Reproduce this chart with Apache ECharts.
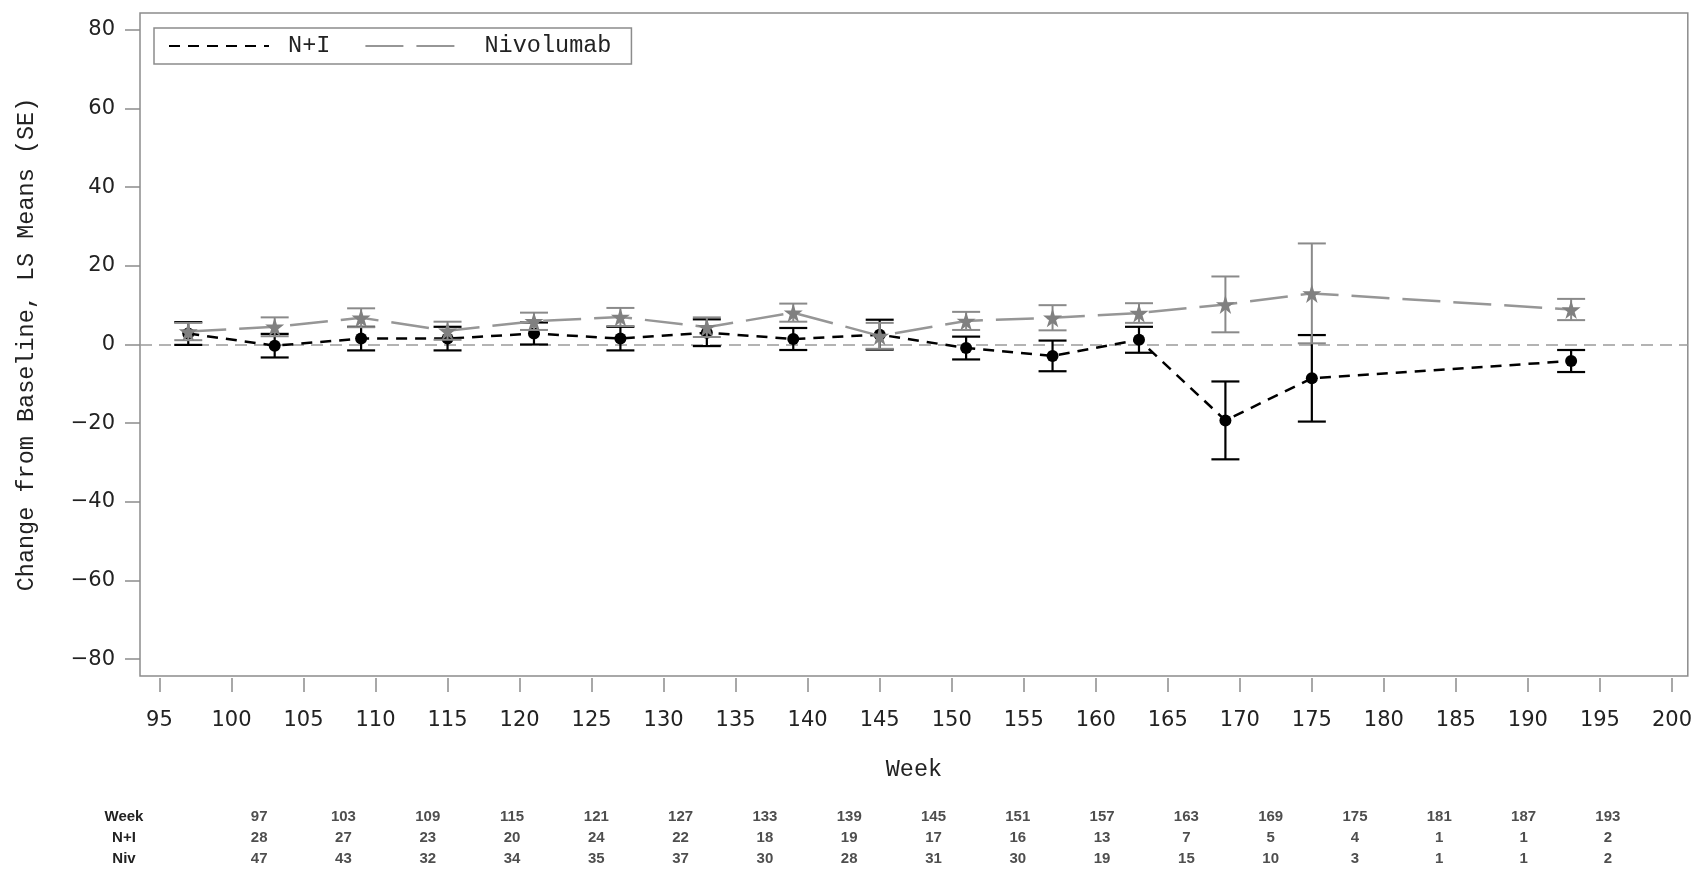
<!DOCTYPE html>
<html>
<head>
<meta charset="utf-8">
<script src="https://cdn.jsdelivr.net/npm/echarts@6/dist/echarts.min.js"></script>
<style>
  html, body { margin: 0; padding: 0; background: #fff; }
  #chart { width: 1695px; height: 869px; }
</style>
</head>
<body>
<div id="chart"></div>
<script>
// ── data ──
const weeks = [97, 103, 109, 115, 121, 127, 133, 139, 145, 151, 157, 163, 169, 175, 193]
const niMean = [2.8, -0.3, 1.5, 1.5, 2.8, 1.5, 3.0, 1.4, 2.5, -0.9, -2.9, 1.2, -19.3, -8.6, -4.2]
const niSE = [2.9, 3.0, 3.0, 3.0, 2.8, 3.0, 3.4, 2.8, 3.8, 2.9, 3.9, 3.3, 9.9, 11.0, 2.8]
const nivMean = [3.3, 4.5, 6.8, 3.5, 5.9, 7.0, 4.4, 8.1, 2.2, 6.0, 6.8, 8.0, 10.2, 13.0, 8.9]
const nivSE = [2.2, 2.4, 2.4, 2.3, 2.2, 2.3, 2.5, 2.3, 3.3, 2.3, 3.2, 2.5, 7.1, 12.7, 2.7]

const xTicks = [95, 100, 105, 110, 115, 120, 125, 130, 135, 140, 145, 150, 155, 160, 165, 170, 175, 180, 185, 190, 195, 200]
const yTicks = [-80, -60, -40, -20, 0, 20, 40, 60, 80]

// at-risk table
const tableWeeks = ['97', '103', '109', '115', '121', '127', '133', '139', '145', '151', '157', '163', '169', '175', '181', '187', '193']
const niN = [28, 27, 23, 20, 24, 22, 18, 19, 17, 16, 13, 7, 5, 4, 1, 1, 2]
const nivN = [47, 43, 32, 34, 35, 37, 30, 28, 31, 30, 19, 15, 10, 3, 1, 1, 2]
const tableRows = ['Week', 'N+I', 'Niv']

const MONO = '"Liberation Mono", "DejaVu Sans Mono", monospace'
const SANS = '"DejaVu Sans", Verdana, sans-serif'
const TABLE = '"Liberation Sans", Arial, sans-serif'
const STAR = 'path://M50,0 L61,35 L98,35 L68,57 L79,91 L50,70 L21,91 L32,57 L2,35 L39,35 Z'

/** error bar series (vertical line + caps) drawn through the axis scale */
function errorBars(mean, se, color, width) {
  return {
    type: 'custom',
    silent: true,
    data: weeks.map((w, i) => [w, mean[i] - se[i], mean[i] + se[i]]),
    encode: { x: 0, y: [1, 2] },
    renderItem(params, api) {
      const lo = api.coord([api.value(0), api.value(1)])
      const hi = api.coord([api.value(0), api.value(2)])
      const hw = 14
      const style = { stroke: color, lineWidth: width }
      return {
        type: 'group',
        children: [
          { type: 'line', shape: { x1: lo[0], y1: hi[1], x2: lo[0], y2: lo[1] }, style },
          { type: 'line', shape: { x1: lo[0] - hw, y1: hi[1], x2: lo[0] + hw, y2: hi[1] }, style },
          { type: 'line', shape: { x1: lo[0] - hw, y1: lo[1], x2: lo[0] + hw, y2: lo[1] }, style }
        ]
      }
    }
  }
}

const tableData = []
tableWeeks.forEach((w, i) => {
  tableData.push([i, 'Week', w])
  tableData.push([i, 'N+I', niN[i]])
  tableData.push([i, 'Niv', nivN[i]])
})

const chart = echarts.init(document.getElementById('chart'))
chart.setOption({
  animation: false,
  textStyle: { fontFamily: MONO },
  grid: [
    { left: 140, top: 13, right: 6, height: 663, show: true, borderColor: '#8c8c8c', borderWidth: 1.5, backgroundColor: 'transparent' },
    { left: 217, top: 806, width: 1433, height: 66 }
  ],
  legend: {
    left: 154, top: 28,
    padding: [6, 20, 6, 14],
    borderColor: '#8c8c8c', borderWidth: 1.5,
    itemWidth: 100, itemHeight: 14, itemGap: 34,
    itemStyle: { opacity: 0 },
    data: ['N+I', 'Nivolumab'],
    formatter: n => ' ' + n,
    textStyle: { fontFamily: MONO, fontSize: 23.5, color: '#222' }
  },
  xAxis: [
    {
      type: 'value', gridIndex: 0, min: 93.65, max: 201.1, offset: 2,
      name: 'Week', nameLocation: 'middle', nameGap: 80,
      nameTextStyle: { fontFamily: MONO, fontSize: 23.5, color: '#222' },
      axisLine: { show: false, onZero: false },
      splitLine: { show: false },
      axisTick: { show: true, length: 14, customValues: xTicks, lineStyle: { color: '#8c8c8c', width: 1.5 } },
      axisLabel: { customValues: xTicks, margin: 32, fontFamily: SANS, fontSize: 21, color: '#222' }
    },
    {
      type: 'category', gridIndex: 1, data: tableWeeks,
      axisLine: { show: false }, axisTick: { show: false }, axisLabel: { show: false }, splitLine: { show: false }
    }
  ],
  yAxis: [
    {
      type: 'value', gridIndex: 0, min: -84.3, max: 84.3,
      name: 'Change from Baseline, LS Means (SE)', nameLocation: 'middle', nameGap: 101,
      nameTextStyle: { fontFamily: MONO, fontSize: 23.5, color: '#222' },
      axisLine: { show: false, onZero: false },
      splitLine: { show: false },
      axisTick: { show: true, length: 15, customValues: yTicks, lineStyle: { color: '#8c8c8c', width: 1.5 } },
      axisLabel: {
        customValues: yTicks, margin: 25, fontFamily: SANS, fontSize: 21, color: '#222',
        formatter: v => String(v).replace('-', '\u2212')
      }
    },
    {
      type: 'category', gridIndex: 1, data: tableRows, inverse: true,
      axisLine: { show: false }, axisTick: { show: false }, splitLine: { show: false },
      axisLabel: { align: 'center', margin: 93, fontFamily: TABLE, fontWeight: 'bold', fontSize: 15, color: '#222' }
    }
  ],
  series: [
    {
      name: 'N+I', type: 'line', data: weeks.map((w, i) => [w, niMean[i]]),
      symbol: 'circle', symbolSize: 12,
      itemStyle: { color: '#000' },
      lineStyle: { color: '#000', width: 2.5, type: [11, 8] },
      z: 3,
      markLine: {
        silent: true, symbol: 'none', label: { show: false },
        lineStyle: { color: '#9a9a9a', width: 1.5, type: [12, 7] },
        data: [{ yAxis: 0 }], z: 1
      }
    },
    Object.assign(errorBars(niMean, niSE, '#000', 2.2), { z: 3 }),
    Object.assign(errorBars(nivMean, nivSE, '#8a8a8a', 2), { z: 4 }),
    {
      name: 'Nivolumab', type: 'line', data: weeks.map((w, i) => [w, nivMean[i]]),
      symbol: STAR, symbolSize: 19,
      itemStyle: { color: '#808080' },
      lineStyle: { color: '#969696', width: 2.5, type: [38, 13] },
      z: 5
    },
    {
      type: 'scatter', xAxisIndex: 1, yAxisIndex: 1, silent: true,
      symbolSize: 0, data: tableData,
      label: { show: true, position: 'inside', formatter: p => p.value[2], fontFamily: TABLE, fontWeight: 'bold', fontSize: 15, color: '#222' }
    }
  ]
})
</script>
</body>
</html>
